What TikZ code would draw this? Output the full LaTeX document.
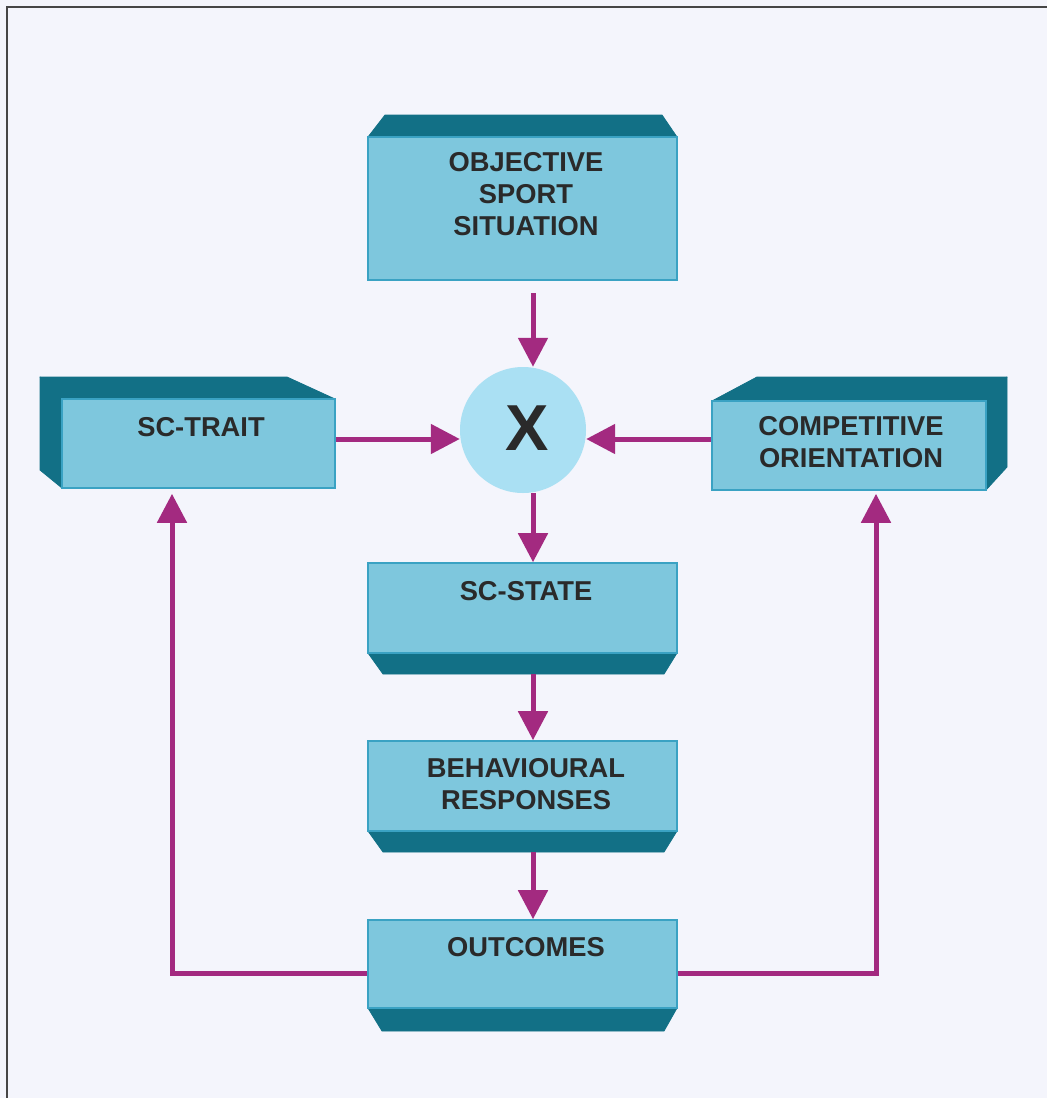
\documentclass[tikz,border=0pt]{standalone}
\usepackage{fontspec}
\setmainfont{Liberation Sans}
\usetikzlibrary{arrows.meta,calc}

\definecolor{pagebg}{RGB}{244,245,252}
\definecolor{frameline}{RGB}{70,70,70}
\definecolor{faceblue}{RGB}{126,199,221}
\definecolor{faceedge}{RGB}{58,162,195}
\definecolor{darkteal}{RGB}{18,112,134}
\definecolor{circleblue}{RGB}{170,224,243}
\definecolor{flowpurple}{RGB}{163,42,128}
\definecolor{inkgray}{RGB}{42,42,42}

\tikzset{
  front/.style={draw=faceedge, line width=1.6pt, fill=faceblue, inner sep=0pt},
  side/.style={fill=darkteal, draw=darkteal, line width=0.8pt, line join=round},
  label/.style={font=\fontsize{27.3}{32}\selectfont\bfseries, text=inkgray, align=center, inner sep=0pt},
  flow/.style={draw=flowpurple, line width=5pt,
    -{Triangle[length=29pt,width=29pt]}, color=flowpurple}
}

\begin{document}
\begin{tikzpicture}[x=1pt,y=-1pt]
  % page background and frame
  \fill[pagebg] (0,0) rectangle (1047,1098);
  \useasboundingbox (0,0) rectangle (1047,1098);
  \draw[frameline, line width=1.5pt] (7,1098) -- (7,7) -- (1047,7);

  % shaded faces behind the front faces
  \fill[side] (368,137) -- (677,137) -- (662,115) -- (385,115) -- cycle;
  \fill[side] (62,399) -- (335,399) -- (287,377) -- (40,377) -- cycle;
  \fill[side] (40,377) -- (62,399) -- (62,488) -- (40,470) -- cycle;
  \fill[side] (712,401) -- (986,401) -- (1007,377) -- (757,377) -- cycle;
  \fill[side] (986,401) -- (1007,377) -- (1007,467) -- (986,490) -- cycle;
  \fill[side] (368,653) -- (677,653) -- (664,674) -- (383,674) -- cycle;
  \fill[side] (368,831) -- (677,831) -- (664,852) -- (383,852) -- cycle;
  \fill[side] (368,1008) -- (677,1008) -- (664,1031) -- (382,1031) -- cycle;

  % front faces
  \node[front, minimum width=309pt, minimum height=143pt] (obj)   at (522.5,208.5) {};
  \node[front, minimum width=273pt, minimum height=89pt]  (trait) at (198.5,443.5) {};
  \node[front, minimum width=274pt, minimum height=89pt]  (comp)  at (849,445.5) {};
  \node[front, minimum width=309pt, minimum height=90pt]  (state) at (522.5,608) {};
  \node[front, minimum width=309pt, minimum height=90pt]  (beh)   at (522.5,786) {};
  \node[front, minimum width=309pt, minimum height=88pt]  (out)   at (522.5,964) {};

  % interaction node
  \node[circle, fill=circleblue, minimum size=126pt, inner sep=0pt] (X) at (523,430) {};

  % labels
  \node[label] (objT)   at (526,194) {OBJECTIVE\\SPORT\\SITUATION};
  \node[label] (traitT) at (201,427) {SC-TRAIT};
  \node[label] (compT)  at (851,442) {COMPETITIVE\\ORIENTATION};
  \node[label] (stateT) at (526,591) {SC-STATE};
  \node[label] (behT)   at (526,784) {BEHAVIOURAL\\RESPONSES};
  \node[label] (outT)   at (526,947) {OUTCOMES};
  \node[font=\fontsize{65}{65}\selectfont\bfseries, text=inkgray, inner sep=0pt] (XT) at (527,428) {X};

  % reference coordinates for connector routes
  \coordinate (ax)    at (533,0);
  \coordinate (ay)    at (0,439);
  \coordinate (lcorn) at (172,973);
  \coordinate (rcorn) at (876,973);
  \coordinate (stateB) at (533,674);
  \coordinate (behB)   at (533,852);
  \coordinate (objB)   at (533,293);

  % connectors
  \draw[flow] (objB) -- (X.north -| ax);
  \draw[flow] (trait.east |- ay) -- (X.west |- ay);
  \draw[flow] (comp.west |- ay) -- (X.east |- ay);
  \draw[flow] (X.south -| ax) -- (state.north -| ax);
  \draw[flow] (stateB) -- (beh.north -| ax);
  \draw[flow] (behB) -- (out.north -| ax);
  \draw[flow] (out.west |- lcorn) -| ([yshift=-5pt]trait.south -| lcorn);
  \draw[flow] (out.east |- rcorn) -| ([yshift=-3pt]comp.south -| rcorn);
\end{tikzpicture}
\end{document}
